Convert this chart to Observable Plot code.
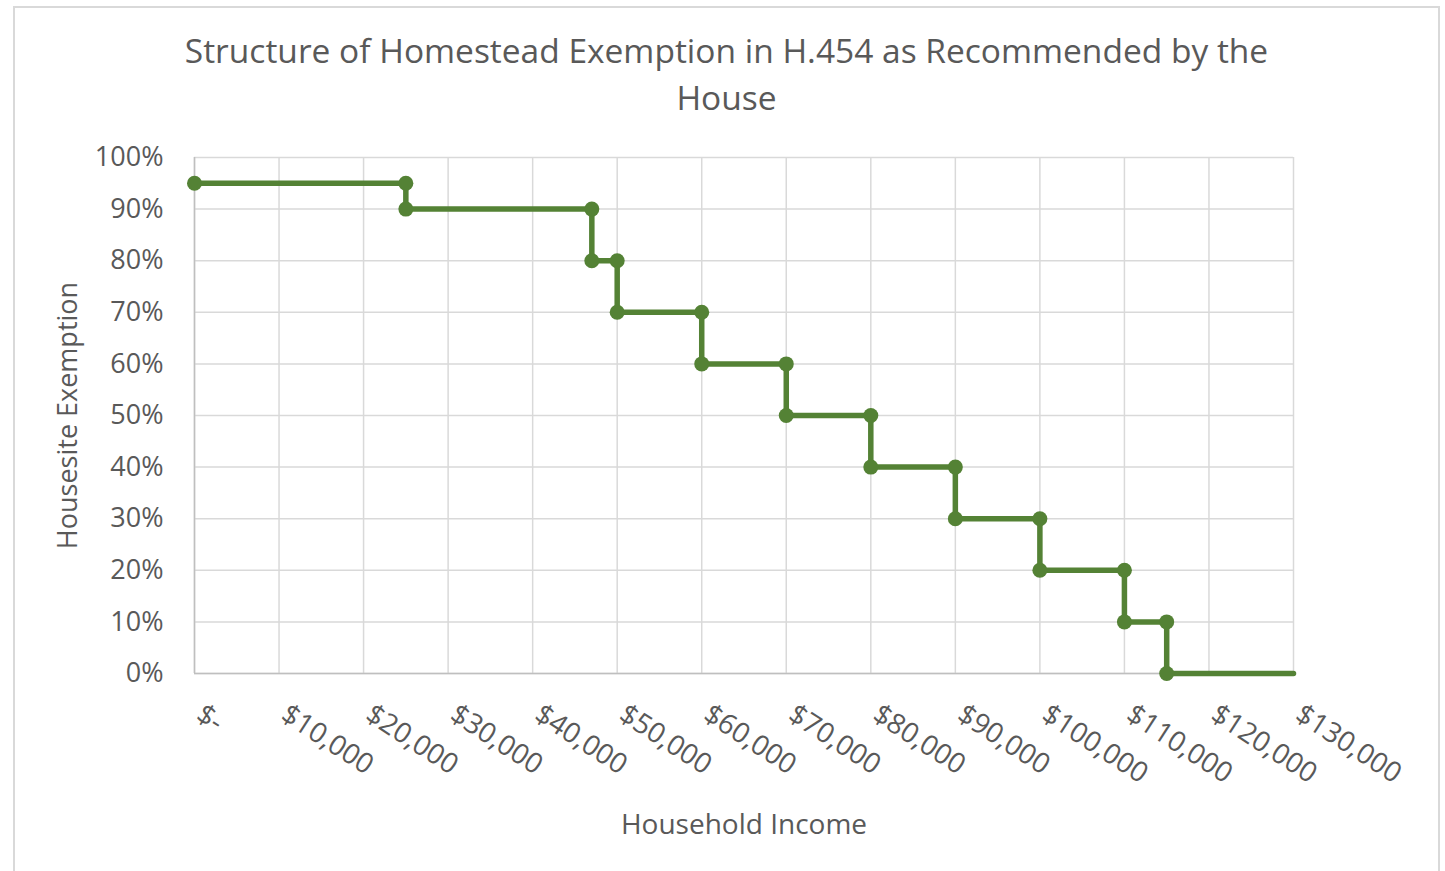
<!DOCTYPE html>
<html>
<head>
<meta charset="utf-8">
<script src="https://cdn.jsdelivr.net/npm/d3@7"></script>
<script src="https://cdn.jsdelivr.net/npm/@observablehq/plot@0.6"></script>
<style>
  html, body { margin: 0; padding: 0; background: #ffffff; }
  #wrap { position: relative; width: 1445px; height: 871px; overflow: hidden; font-family: "Open Sans", sans-serif; }
  #frame { position: absolute; left: 13px; top: 6px; width: 1427px; height: 900px; border: 2px solid #d9d9d9; box-sizing: border-box; }
  #title { position: absolute; left: 13px; top: 27px; width: 1427px; text-align: center; color: #595959; font-size: 33.5px; line-height: 47px; }
  #chart { position: absolute; left: 0; top: 135px; }
</style>
</head>
<body>
<div id="wrap">
  <div id="frame"></div>
  <div id="title">Structure of Homestead Exemption in H.454 as Recommended by the<br>House</div>
  <div id="chart"></div>
</div>
<script>
// Household income (x) and housesite exemption percentage (y) of each step vertex
const income = [0, 25000, 25000, 47000, 47000, 50000, 50000, 60000, 60000, 70000, 70000, 80000, 80000, 90000, 90000, 100000, 100000, 110000, 110000, 115000, 115000, 130000];
const exemption = [95, 95, 90, 90, 80, 80, 70, 70, 60, 60, 50, 50, 40, 40, 30, 30, 20, 20, 10, 10, 0, 0];
// last vertex has no marker
const markerCount = 21;

const xTicks = [0, 10000, 20000, 30000, 40000, 50000, 60000, 70000, 80000, 90000, 100000, 110000, 120000, 130000];
const yTicks = [0, 10, 20, 30, 40, 50, 60, 70, 80, 90, 100];

const xLabel = "Household Income";
const yLabel = "Housesite Exemption";

const data = income.map((x, i) => ({x, y: exemption[i]}));
const fmtMoney = d => d === 0 ? "$-" : "$" + d3.format(",")(d);

const green = "#548235";
const grid = "#d9d9d9";
const textColor = "#595959";

const chart = Plot.plot({
  width: 1445,
  height: 736,
  marginLeft: 194,
  marginRight: 152,
  marginTop: 22,
  marginBottom: 198,
  style: {fontFamily: "'Open Sans', sans-serif", fontSize: "27px", color: textColor, background: "transparent", overflow: "visible"},
  x: {domain: [0, 130000]},
  y: {domain: [0, 100]},
  marks: [
    Plot.gridX(xTicks, {stroke: grid, strokeOpacity: 1, strokeWidth: 1.5}),
    Plot.gridY(yTicks, {stroke: grid, strokeOpacity: 1, strokeWidth: 1.5}),
    Plot.ruleX([0], {stroke: "#bfbfbf", strokeWidth: 1.5}),
    Plot.ruleY([0], {stroke: "#bfbfbf", strokeWidth: 1.5}),
    Plot.axisY({ticks: yTicks, tickFormat: d => d + "%", tickSize: 0, tickPadding: 31,
      label: yLabel, labelAnchor: "center", labelOffset: 137, labelArrow: "none", fill: textColor}),
    Plot.axisX({ticks: xTicks, tickFormat: fmtMoney, tickSize: 0, tickPadding: 38, tickRotate: 33, dx: 5,
      fontSize: 28, label: null, fill: textColor}),
    Plot.axisX({ticks: [], label: xLabel, labelAnchor: "center", labelOffset: 160, labelArrow: "none",
      fontSize: 28, fill: textColor}),
    Plot.line(data, {x: "x", y: "y", stroke: green, strokeWidth: 5.5, strokeLinejoin: "round"}),
    Plot.dot(data.slice(0, markerCount), {x: "x", y: "y", r: 7.5, fill: green, stroke: "none"})
  ]
});
document.getElementById("chart").appendChild(chart);
</script>
</body>
</html>
